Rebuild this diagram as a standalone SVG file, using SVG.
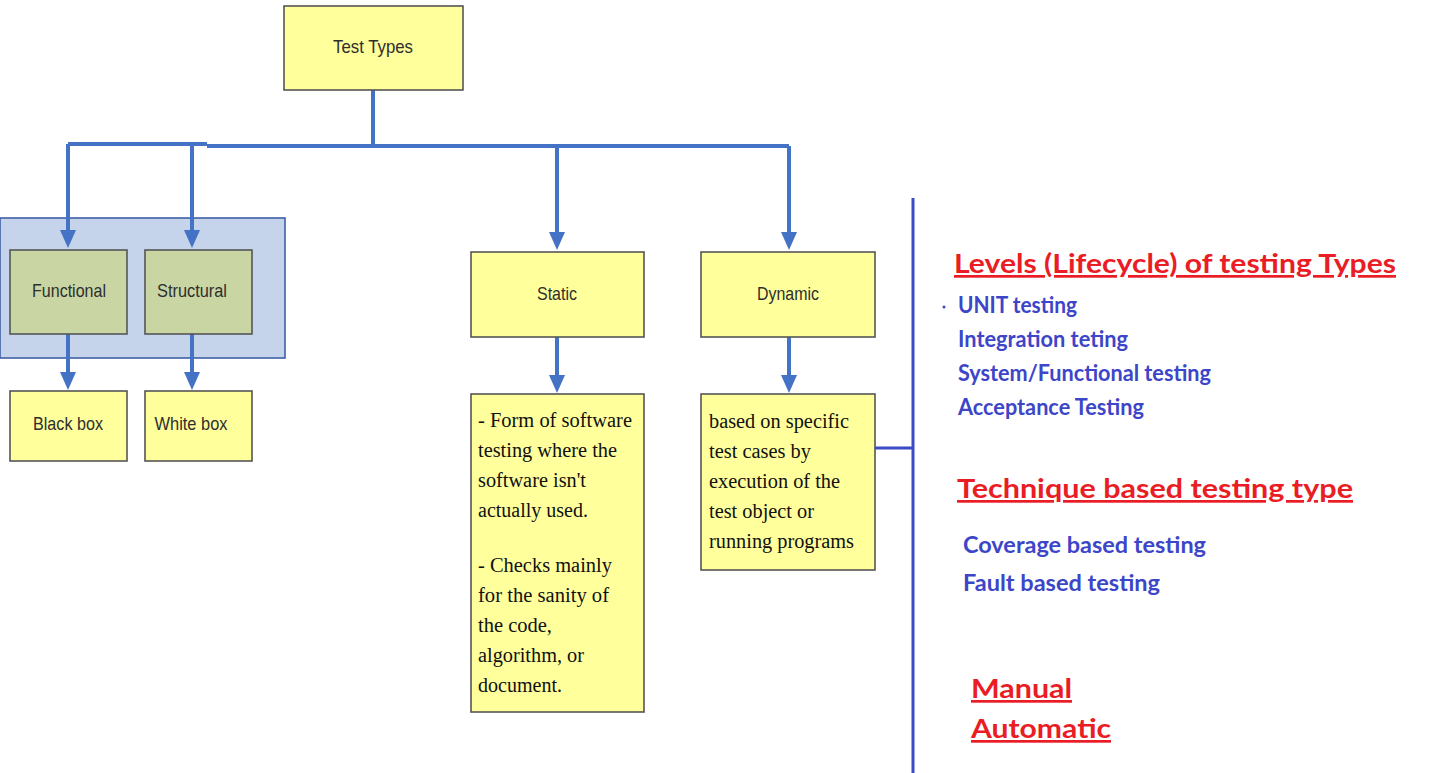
<svg xmlns="http://www.w3.org/2000/svg" width="1437" height="773" viewBox="0 0 1437 773">
<style>
.box{fill:#ffff9c;stroke:#555;stroke-width:1.6}
.gbox{fill:#c9d6a4;stroke:#555;stroke-width:1.6}
.lbl{font-family:"Liberation Sans Narrow","Liberation Sans",Arial,sans-serif;font-size:19px;fill:#2e2e2e;text-anchor:middle}
.desc{font-family:"Liberation Serif","Times New Roman",serif;font-size:20.5px;fill:#111}
.conn{stroke:#4472c4;stroke-width:4;fill:none}
.head{font-family:Lato,"Open Sans","Liberation Sans",sans-serif;font-weight:bold;font-size:27px;fill:#ea1c24;text-decoration:underline}
.item{font-family:Lato,"Open Sans","Liberation Sans",sans-serif;font-weight:bold;font-size:22px;fill:#3d45c8}
</style>
<rect width="1437" height="773" fill="#fff"/>

<g id="group-bg">
<rect x="0" y="218" width="285" height="140" fill="#c6d4eb" stroke="#3f5fa8" stroke-width="1.6"/>
</g>

<g id="connectors">
<path class="conn" d="M373,90 V145"/>
<path class="conn" d="M68,144 H207 M207,146 H789"/>
<path d="M68,144 V236" class="conn"/>
<path d="M60,230 L68,248 L76,230 Z" fill="#4472c4"/>
<path d="M192,145 V236" class="conn"/>
<path d="M184,230 L192,248 L200,230 Z" fill="#4472c4"/>
<path d="M557,146 V238" class="conn"/>
<path d="M549,232 L557,250 L565,232 Z" fill="#4472c4"/>
<path d="M789,146 V238" class="conn"/>
<path d="M781,232 L789,250 L797,232 Z" fill="#4472c4"/>
<path d="M68,334 V378" class="conn"/>
<path d="M60,372 L68,390 L76,372 Z" fill="#4472c4"/>
<path d="M192,334 V378" class="conn"/>
<path d="M184,372 L192,390 L200,372 Z" fill="#4472c4"/>
<path d="M557,337 V381" class="conn"/>
<path d="M549,375 L557,393 L565,375 Z" fill="#4472c4"/>
<path d="M789,337 V381" class="conn"/>
<path d="M781,375 L789,393 L797,375 Z" fill="#4472c4"/>
<path d="M875,448 H913" stroke="#3d4cc6" stroke-width="3" fill="none"/>
<path d="M913,198 V773" stroke="#3d4cc6" stroke-width="3" fill="none"/>
</g>

<g id="test-types">
<rect class="box" x="284" y="6" width="179" height="84"/>
<text class="lbl" x="373" y="53" textLength="80" lengthAdjust="spacingAndGlyphs">Test Types</text>
</g>
<g id="functional">
<rect class="gbox" x="10" y="250" width="117" height="84"/>
<text class="lbl" x="69" y="297" textLength="74" lengthAdjust="spacingAndGlyphs">Functional</text>
</g>
<g id="structural">
<rect class="gbox" x="145" y="250" width="107" height="84"/>
<text class="lbl" x="192" y="297" textLength="70" lengthAdjust="spacingAndGlyphs">Structural</text>
</g>
<g id="black-box">
<rect class="box" x="10" y="391" width="117" height="70"/>
<text class="lbl" x="68" y="430" textLength="70" lengthAdjust="spacingAndGlyphs">Black box</text>
</g>
<g id="white-box">
<rect class="box" x="145" y="391" width="107" height="70"/>
<text class="lbl" x="191" y="430" textLength="73" lengthAdjust="spacingAndGlyphs">White box</text>
</g>
<g id="static">
<rect class="box" x="471" y="252" width="173" height="85"/>
<text class="lbl" x="557" y="300" textLength="40" lengthAdjust="spacingAndGlyphs">Static</text>
</g>
<g id="dynamic">
<rect class="box" x="701" y="252" width="174" height="85"/>
<text class="lbl" x="788" y="300" textLength="62" lengthAdjust="spacingAndGlyphs">Dynamic</text>
</g>
<g id="static-desc">
<rect class="box" x="471" y="394" width="173" height="318"/>
<text class="desc" x="478" y="427" textLength="154" lengthAdjust="spacingAndGlyphs">- Form of software</text>
<text class="desc" x="478" y="457" textLength="139" lengthAdjust="spacingAndGlyphs">testing where the</text>
<text class="desc" x="478" y="487" textLength="108" lengthAdjust="spacingAndGlyphs">software isn't</text>
<text class="desc" x="478" y="517" textLength="110" lengthAdjust="spacingAndGlyphs">actually used.</text>
<text class="desc" x="478" y="572" textLength="134" lengthAdjust="spacingAndGlyphs">- Checks mainly</text>
<text class="desc" x="478" y="602" textLength="131" lengthAdjust="spacingAndGlyphs">for the sanity of</text>
<text class="desc" x="478" y="632" textLength="74" lengthAdjust="spacingAndGlyphs">the code,</text>
<text class="desc" x="478" y="662" textLength="106" lengthAdjust="spacingAndGlyphs">algorithm, or</text>
<text class="desc" x="478" y="692" textLength="84" lengthAdjust="spacingAndGlyphs">document.</text>
</g>
<g id="dynamic-desc">
<rect class="box" x="701" y="394" width="174" height="176"/>
<text class="desc" x="709" y="428" textLength="140" lengthAdjust="spacingAndGlyphs">based on specific</text>
<text class="desc" x="709" y="458" textLength="102" lengthAdjust="spacingAndGlyphs">test cases by</text>
<text class="desc" x="709" y="488" textLength="131" lengthAdjust="spacingAndGlyphs">execution of the</text>
<text class="desc" x="709" y="518" textLength="105" lengthAdjust="spacingAndGlyphs">test object or</text>
<text class="desc" x="709" y="548" textLength="145" lengthAdjust="spacingAndGlyphs">running programs</text>
</g>

<g id="levels">
<text class="head" x="954" y="273" textLength="442" lengthAdjust="spacingAndGlyphs">Levels (Lifecycle) of testing Types</text>
<circle cx="944" cy="307" r="1.5" fill="#3d45c8"/>
<text class="item" x="958" y="313" textLength="119" lengthAdjust="spacingAndGlyphs">UNIT testing</text>
<text class="item" x="958" y="347" textLength="170" lengthAdjust="spacingAndGlyphs">Integration teting</text>
<text class="item" x="958" y="381" textLength="253" lengthAdjust="spacingAndGlyphs">System/Functional testing</text>
<text class="item" x="958" y="415" textLength="186" lengthAdjust="spacingAndGlyphs">Acceptance Testing</text>
</g>
<g id="technique">
<text class="head" x="957" y="498" textLength="396" lengthAdjust="spacingAndGlyphs">Technique based testing type</text>
<text class="item" x="963" y="553" textLength="243" lengthAdjust="spacingAndGlyphs">Coverage based testing</text>
<text class="item" x="963" y="591" textLength="197" lengthAdjust="spacingAndGlyphs">Fault based testing</text>
</g>
<g id="mode">
<text class="head" x="971" y="698" textLength="101" lengthAdjust="spacingAndGlyphs">Manual</text>
<text class="head" x="971" y="738" textLength="140" lengthAdjust="spacingAndGlyphs">Automatic</text>
</g>
</svg>
